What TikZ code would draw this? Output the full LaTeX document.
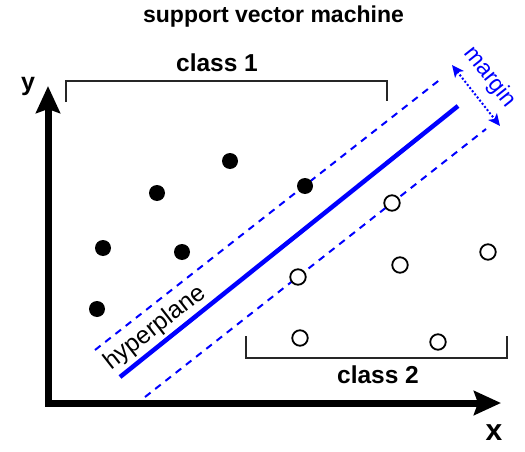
\documentclass[tikz,border=0pt]{standalone}
\usepackage{fontspec}
\setmainfont{Liberation Sans}
\usetikzlibrary{arrows.meta}
\definecolor{svmblue}{HTML}{0000FF}
\begin{document}
\begin{tikzpicture}[x=1pt,y=-1pt,
  filled/.style={circle,fill=black,draw=none,minimum size=16pt,inner sep=0pt},
  hollow/.style={circle,draw=black,line width=1.8pt,fill=white,minimum size=15.5pt,inner sep=0pt},
  bracket/.style={draw=black!85,line width=1.8pt},
  margline/.style={svmblue,line width=2pt,dash pattern=on 7pt off 6pt},
  lbl/.style={inner sep=0pt,anchor=base},
]
\useasboundingbox (0,0) rectangle (525,452);
% title
\node[lbl,font=\bfseries\fontsize{23}{27}\selectfont] (title) at (273.5,23) {support vector machine};
% axes
\coordinate (ytip) at (48,86);
\coordinate (orig) at (48,403);
\coordinate (xtip) at (501,403);
\draw[line width=7pt,line join=miter,{Stealth[length=27pt,width=24pt,inset=4pt]}-{Stealth[length=27pt,width=24pt,inset=4pt]}] (ytip) -- (orig) -- (xtip);
\node[lbl,font=\bfseries\fontsize{25}{29}\selectfont] (ylab) at (28,91) {y};
\node[lbl,font=\bfseries\fontsize{30}{34}\selectfont] (xlab) at (494,440) {x};
% class brackets
\coordinate (c1a) at (66,102);
\coordinate (c1b) at (66,81);
\coordinate (c1c) at (387,81);
\coordinate (c1d) at (387,101);
\draw[bracket] (c1a) -- (c1b) -- (c1c) -- (c1d);
\node[lbl,font=\bfseries\fontsize{24.5}{28}\selectfont] (class1) at (217,72) {class 1};
\coordinate (c2a) at (246,336);
\coordinate (c2b) at (246,358);
\coordinate (c2c) at (507,358);
\coordinate (c2d) at (507,336);
\draw[bracket] (c2a) -- (c2b) -- (c2c) -- (c2d);
\node[lbl,font=\bfseries\fontsize{24.5}{28}\selectfont] (class2) at (378,383) {class 2};
% hyperplane and margins
\coordinate (h1) at (120,377);
\coordinate (h2) at (458,106);
\draw[svmblue,line width=4.5pt] (h1) -- (h2);
\coordinate (u1) at (95,350);
\coordinate (u2) at (442,78);
\draw[margline] (u1) -- (u2);
\coordinate (l1) at (145,397);
\coordinate (l2) at (486,129);
\draw[margline] (l1) -- (l2);
\coordinate (m1) at (452,65);
\coordinate (m2) at (500,126);
\draw[svmblue,line width=2pt,dash pattern=on 2pt off 2pt,{Stealth[length=12pt,width=11pt,inset=3pt]}-{Stealth[length=12pt,width=11pt,inset=3pt]}] (m1) -- (m2);
\node[lbl,svmblue,rotate=-51.5,font=\fontsize{23}{27}\selectfont] (margin) at (485,81) {margin};
\node[lbl,rotate=38,font=\fontsize{24.5}{29}\selectfont] (hyper) at (159,333) {hyperplane};
% class 1 points
\node[filled] (p1) at (230,161) {};
\node[filled] (p2) at (157,193) {};
\node[filled] (p3) at (305,186) {};
\node[filled] (p4) at (103,248) {};
\node[filled] (p5) at (182,252) {};
\node[filled] (p6) at (97,309) {};
% class 2 points
\node[hollow] (q1) at (392,203) {};
\node[hollow] (q2) at (488,252) {};
\node[hollow] (q3) at (400,265) {};
\node[hollow] (q4) at (298,277) {};
\node[hollow] (q5) at (300,338) {};
\node[hollow] (q6) at (438,342) {};
\end{tikzpicture}
\end{document}
